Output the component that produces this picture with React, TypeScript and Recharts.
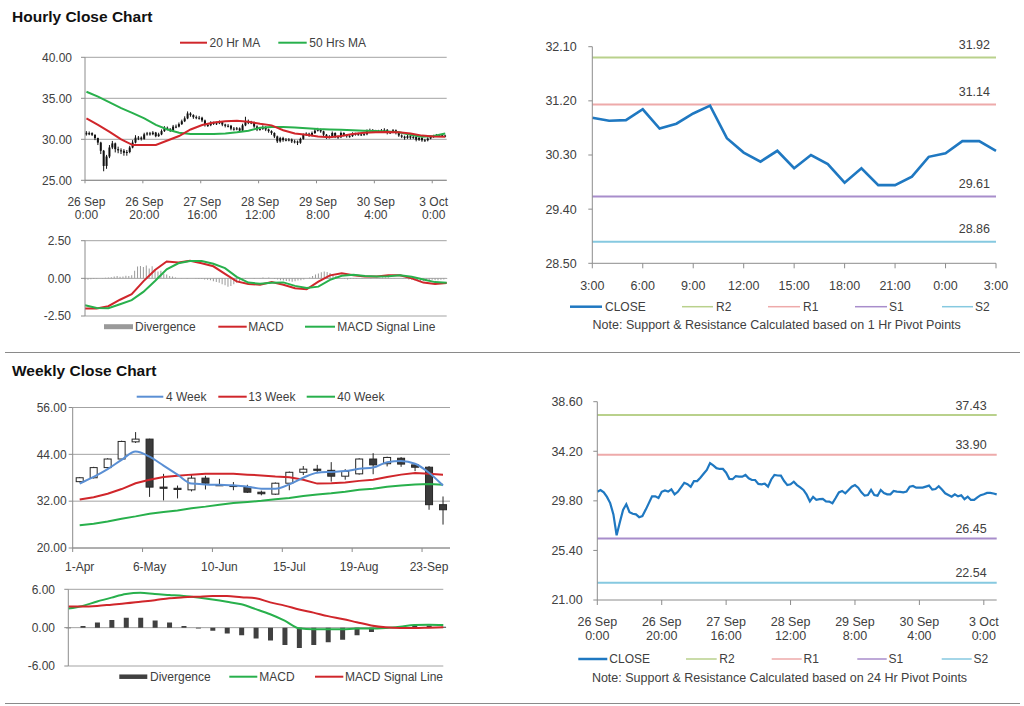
import React from 'react';
import { ComposedChart, LineChart, Line, Bar, XAxis, YAxis, CartesianGrid, ReferenceLine } from 'recharts';

const FONT = '"Liberation Sans", Arial, Helvetica, sans-serif';
const TXT = '#404040';
const AXIS = '#8c8c8c';
const GRID = '#a3a3a3';
const RED = '#d0262b';
const GREEN = '#28b04c';
const BLUE = '#1f78c1';
const BLUE4 = '#5a8fd4';
const R2C = '#b9d18c';
const R1C = '#eeaaaa';
const S1C = '#a88dcb';
const S2C = '#86c9e0';

// ---------------- Hourly data (26 Sep 0:00 .. 3 Oct 4:00) ----------------
const hourTickIdx = [0, 20, 40, 60, 80, 100, 120];
const hourTickDates = ['26 Sep', '26 Sep', '27 Sep', '28 Sep', '29 Sep', '30 Sep', '3 Oct'];
const hourTickTimes = ['0:00', '20:00', '16:00', '12:00', '8:00', '4:00', '0:00'];

const hourlyFirstOpen = 30.8;
const hourlyClose = [
  30.6, 30.75, 30.55, 30.15, 29.6, 28.6, 26.75, 27.9, 29.0, 29.5,
  28.8, 28.65, 28.6, 28.35, 28.45, 29.0, 29.6, 30.2, 30.2, 30.05,
  30.6, 30.72, 30.62, 30.82, 30.38, 30.6, 31.0, 31.4, 31.28, 31.05,
  31.55, 31.55, 31.85, 32.2, 32.55, 33.15, 32.95, 32.7, 32.63, 32.63,
  32.3, 31.75, 31.72, 32.0, 31.95, 31.95, 32.1, 31.8, 31.65, 31.65,
  31.3, 31.27, 31.33, 31.06, 31.7, 32.1, 32.05, 32.04, 31.56, 31.2,
  31.27, 31.5, 31.2, 31.0, 30.77, 30.35, 29.75, 30.15, 29.9, 29.95,
  29.97, 29.75, 29.73, 29.58, 30.05, 30.55, 30.68, 30.47, 30.77, 31.05,
  31.2, 30.97, 30.56, 30.26, 30.32, 30.77, 30.32, 30.26, 30.77, 30.5,
  30.38, 30.38, 30.68, 30.62, 30.6, 30.56, 30.62, 31.06, 31.12, 30.97,
  30.97, 30.97, 31.06, 31.15, 30.8, 30.85, 31.1, 30.8, 30.47, 30.32,
  30.17, 30.38, 30.2, 30.3, 29.95, 30.17, 29.88, 29.88, 30.1, 30.3,
  30.38, 30.5, 30.5, 30.45, 30.38,
];
const hourlyHigh = [
  31.0, 30.95, 30.85, 30.6, 30.2, 29.7, 28.7, 28.1, 29.3, 29.8,
  29.6, 29.1, 28.9, 28.8, 28.7, 29.2, 29.9, 30.5, 30.4, 30.35,
  30.8, 30.9, 30.9, 31.0, 30.9, 30.8, 31.2, 31.6, 31.55, 31.35,
  31.75, 31.8, 32.05, 32.4, 32.8, 33.4, 33.3, 33.05, 32.9, 32.85,
  32.75, 32.4, 31.95, 32.2, 32.15, 32.15, 32.3, 32.2, 31.9, 31.85,
  31.75, 31.5, 31.5, 31.45, 31.9, 32.75, 32.4, 32.25, 32.15, 31.7,
  31.45, 31.7, 31.6, 31.3, 31.1, 30.85, 30.45, 30.3, 30.3, 30.15,
  30.15, 30.1, 29.95, 29.85, 30.2, 30.7, 30.85, 30.8, 30.95, 31.25,
  31.4, 31.3, 31.05, 30.65, 30.5, 30.95, 30.85, 30.45, 30.95, 30.85,
  30.6, 30.55, 30.85, 30.8, 30.8, 30.75, 30.8, 31.2, 31.3, 31.25,
  31.15, 31.15, 31.25, 31.35, 31.25, 31.0, 31.25, 31.2, 30.9, 30.6,
  30.45, 30.55, 30.5, 30.45, 30.4, 30.35, 30.25, 30.05, 30.25, 30.45,
  30.55, 30.65, 30.65, 30.6, 30.55,
];
const hourlyLow = [
  30.45, 30.5, 30.4, 29.9, 29.3, 28.2, 26.1, 26.4, 27.7, 28.8,
  28.4, 28.3, 28.2, 28.0, 28.0, 28.3, 28.9, 29.5, 29.9, 29.85,
  29.95, 30.45, 30.45, 30.5, 30.25, 30.3, 30.5, 30.9, 31.1, 30.9,
  31.0, 31.35, 31.45, 31.75, 32.1, 32.45, 32.75, 32.5, 32.45, 32.4,
  32.1, 31.55, 31.5, 31.6, 31.75, 31.75, 31.85, 31.6, 31.45, 31.45,
  31.1, 31.05, 31.1, 30.85, 30.95, 31.6, 31.85, 31.85, 31.4, 31.0,
  31.05, 31.15, 31.0, 30.8, 30.55, 30.15, 29.55, 29.6, 29.7, 29.75,
  29.75, 29.55, 29.5, 29.3, 29.45, 29.95, 30.4, 30.3, 30.35, 30.65,
  30.95, 30.8, 30.4, 30.05, 30.1, 30.2, 30.15, 30.05, 30.15, 30.35,
  30.2, 30.2, 30.3, 30.45, 30.45, 30.4, 30.45, 30.5, 30.95, 30.8,
  30.8, 30.8, 30.85, 30.95, 30.6, 30.65, 30.75, 30.6, 30.3, 30.15,
  29.95, 30.05, 30.0, 30.05, 29.75, 29.8, 29.7, 29.7, 29.75, 30.0,
  30.2, 30.3, 30.35, 30.3, 30.25,
];
// moving averages & MACD read every 4 hours (idx 0,4,...,124)
const hourlyMa20 = [
  32.55, 31.75, 30.9, 30.0, 29.3, 29.3, 29.3, 29.85, 30.4, 31.2, 31.75, 32.05, 32.2, 32.25, 32.15, 31.9,
  31.7, 31.1, 30.7, 30.55, 30.35, 30.25, 30.4, 30.65, 30.8, 30.85, 30.9, 30.85, 30.7, 30.45, 30.35, 30.3,
];
const hourlyMa50 = [
  35.8, 35.2, 34.5, 33.8, 33.2, 32.55, 31.75, 31.2, 30.8, 30.65, 30.65, 30.65, 30.7, 30.85, 31.05, 31.4,
  31.5, 31.5, 31.45, 31.35, 31.25, 31.2, 31.15, 31.1, 31.05, 31.0, 30.95, 30.85, 30.55, 30.3, 30.4, 30.7,
];
const hourlyMacd = [
  -2.01, -2.0, -1.85, -1.42, -1.05, -0.2, 0.55, 1.12, 1.06, 1.17, 1.0, 0.8, 0.3, -0.2, -0.38, -0.42,
  -0.25, -0.42, -0.66, -0.73, -0.22, 0.2, 0.33, 0.2, 0.13, 0.12, 0.21, 0.2, 0.0, -0.28, -0.38, -0.31,
];
const hourlySignal = [
  -1.79, -1.97, -1.98, -1.72, -1.45, -0.9, -0.18, 0.6, 1.0, 1.15, 1.15, 0.97, 0.68, 0.1, -0.28, -0.36,
  -0.3, -0.27, -0.5, -0.64, -0.55, -0.1, 0.17, 0.24, 0.16, 0.13, 0.14, 0.2, 0.11, -0.07, -0.25, -0.29,
];
const hourlyDivergence = [
  -0.08, -0.1, -0.06, -0.05, -0.03,
  0.0, 0.02, 0.04, 0.05, 0.08, 0.12, 0.15, 0.1, 0.12, 0.18, 0.15, 0.2,
  0.5, 0.78, 0.82, 0.75, 0.85, 0.65, 0.8, 0.6, 0.45, 0.5, 0.3, 0.25,
  0.15, 0.12, 0.05, 0.0, 0.02, 0.0, -0.02, 0.0, 0.0, -0.03, -0.05, -0.05,
  -0.08, -0.1, -0.12, -0.2, -0.25, -0.3, -0.4, -0.45, -0.55, -0.5, -0.4, -0.3,
  -0.2, -0.1, -0.05, 0.0, 0.0, -0.02, 0.0, 0.02, 0.05, 0.03, 0.05, 0.0,
  -0.05, -0.08, -0.12, -0.15, -0.18, -0.2, -0.22, -0.2, -0.15, -0.12, -0.08, 0.0,
  0.05, 0.15, 0.25, 0.32, 0.4, 0.45, 0.42, 0.35, 0.25, 0.15, 0.08, 0.02,
  -0.05, -0.08, -0.05, -0.03, -0.02, 0.0, 0.02, 0.0, 0.0, -0.02, 0.0, 0.02,
  0.03, 0.05, 0.05, 0.05, 0.03, 0.02, 0.0, 0.0, -0.02, -0.05, -0.08, -0.1,
  -0.12, -0.15, -0.18, -0.18, -0.15, -0.12, -0.1, -0.12, -0.12, -0.1, -0.08, -0.05,
];

// ---------------- 1 Hr pivot chart ----------------
const pivotHours = [
  '3:00', '4:00', '5:00', '6:00', '7:00', '8:00', '9:00', '10:00', '11:00', '12:00', '13:00', '14:00', '15:00',
  '16:00', '17:00', '18:00', '19:00', '20:00', '21:00', '22:00', '23:00', '0:00', '1:00', '2:00', '3:00',
];
const pivotHourTicks = [0, 3, 6, 9, 12, 15, 18, 21, 24];
const close1h = [
  30.92, 30.87, 30.88, 31.06, 30.74, 30.82, 30.99, 31.12, 30.58, 30.34, 30.19, 30.37, 30.08,
  30.3, 30.15, 29.84, 30.08, 29.8, 29.8, 29.94, 30.27, 30.33, 30.53, 30.53, 30.37,
];
const pivot1h = { R2: 31.92, R1: 31.14, S1: 29.61, S2: 28.86 };
const pivot24h = { R2: 37.43, R1: 33.9, S1: 26.45, S2: 22.54 };

// ---------------- Weekly data (1-Apr .. 30-Sep) ----------------
const weeks = [
  '1-Apr', '8-Apr', '15-Apr', '22-Apr', '29-Apr', '6-May', '13-May', '20-May', '27-May', '3-Jun',
  '10-Jun', '17-Jun', '24-Jun', '1-Jul', '8-Jul', '15-Jul', '22-Jul', '29-Jul', '5-Aug', '12-Aug',
  '19-Aug', '26-Aug', '2-Sep', '9-Sep', '16-Sep', '23-Sep', '30-Sep',
];
const weekTickIdx = [0, 5, 10, 15, 20, 25];
const weekOpen = [37.0, 38.0, 40.6, 42.8, 47.2, 47.9, 35.6, 35.3, 34.9, 37.9, 36.2, 36.0, 35.6, 34.3, 33.8, 36.6, 39.4, 40.2, 39.9, 38.4, 39.0, 42.8, 41.6, 43.0, 41.3, 40.7, 31.1];
const weekHigh = [38.2, 40.8, 43.0, 47.5, 49.7, 48.0, 39.0, 36.0, 38.8, 38.5, 37.7, 36.9, 36.2, 34.7, 36.8, 39.6, 41.0, 41.3, 42.0, 40.2, 43.0, 44.3, 43.4, 43.3, 41.6, 41.0, 33.2];
const weekLow = [36.8, 37.8, 40.4, 42.6, 46.9, 33.1, 32.2, 32.7, 34.5, 35.0, 35.9, 34.8, 34.1, 33.5, 33.6, 34.8, 38.7, 39.2, 37.0, 37.5, 38.8, 38.9, 40.9, 40.8, 39.7, 29.8, 26.0];
const weekClose = [38.0, 40.6, 42.8, 47.3, 47.9, 35.6, 35.3, 35.0, 37.9, 36.6, 36.0, 35.8, 34.3, 33.9, 36.6, 39.4, 40.2, 39.9, 38.4, 39.6, 42.8, 41.3, 43.2, 41.5, 40.7, 31.1, 29.8];
const week4 = [36.5, 38.2, 40.2, 42.6, 44.7, 43.4, 41.1, 38.8, 36.5, 36.3, 36.2, 36.1, 35.7, 35.2, 35.2, 36.3, 38.0, 39.3, 39.5, 39.7, 40.3, 40.6, 42.0, 42.3, 41.6, 39.3, 36.0];
const week13 = [32.4, 33.0, 33.9, 35.1, 36.6, 37.5, 38.2, 38.5, 38.8, 39.0, 39.0, 39.0, 38.8, 38.6, 38.3, 38.1, 37.5, 36.5, 36.6, 36.8, 37.2, 37.5, 38.2, 38.8, 39.2, 39.0, 38.8];
const week40 = [25.8, 26.2, 26.8, 27.5, 28.1, 28.8, 29.2, 29.6, 30.2, 30.6, 31.1, 31.5, 31.8, 32.1, 32.5, 32.8, 33.3, 33.7, 34.0, 34.4, 34.9, 35.2, 35.7, 36.0, 36.3, 36.4, 36.2];
const weekMacd = [3.0, 3.4, 4.1, 4.7, 5.25, 5.45, 5.25, 5.1, 4.95, 4.7, 4.4, 4.05, 3.65, 2.9, 2.1, 1.1, -0.1, -0.25, -0.25, -0.25, -0.15, -0.15, -0.05, 0.15, 0.4, 0.45, 0.4];
const weekSignal = [3.3, 3.3, 3.4, 3.6, 3.8, 4.05, 4.3, 4.6, 4.75, 4.85, 4.95, 4.95, 4.75, 4.6, 3.95, 3.45, 2.85, 2.35, 1.8, 1.35, 0.85, 0.35, 0.05, -0.05, -0.05, 0.0, 0.05];
const weekDivergence = [-0.1, 0.25, 0.8, 1.2, 1.55, 1.55, 1.1, 0.8, 0.25, -0.15, -0.5, -0.9, -1.2, -1.7, -2.0, -2.7, -3.2, -2.7, -2.3, -1.9, -1.2, -0.7, -0.1, 0.0, 0.25, 0.35, 0.15];

// ---------------- tables ----------------
const hourlyRows = hourlyClose.map((c, i) => ({
  i,
  open: i === 0 ? hourlyFirstOpen : hourlyClose[i - 1],
  high: hourlyHigh[i],
  low: hourlyLow[i],
  close: c,
  range: [hourlyLow[i], hourlyHigh[i]],
  ma20: i % 4 === 0 ? hourlyMa20[i / 4] : null,
  ma50: i % 4 === 0 ? hourlyMa50[i / 4] : null,
  macd: i % 4 === 0 ? hourlyMacd[i / 4] : null,
  signal: i % 4 === 0 ? hourlySignal[i / 4] : null,
  div: hourlyDivergence[i],
}));
const pivotRows = close1h.map((c, i) => ({ i, close: c }));
const weeklyRows = weekClose.map((c, i) => ({
  i,
  open: weekOpen[i],
  high: weekHigh[i],
  low: weekLow[i],
  close: c,
  range: [weekLow[i], weekHigh[i]],
  ma4: week4[i],
  ma13: week13[i],
  ma40: week40[i],
  macd: weekMacd[i],
  signal: weekSignal[i],
  div: weekDivergence[i],
}));

const fmt2 = (v: number) => Number(v).toFixed(2);

function CandleShape(props: any) {
  const { x, y, width, height, payload, bodyW, upFill, downFill, stroke, wick } = props;
  if (!payload || !isFinite(y) || !isFinite(height)) return null;
  const top = Math.min(y, y + height);
  const h = Math.abs(height);
  const { open, close, high, low } = payload;
  const k = high > low ? h / (high - low) : 0;
  const cx = x + width / 2;
  const yo = top + (high - open) * k;
  const yc = top + (high - close) * k;
  const bTop = Math.min(yo, yc);
  const bH = Math.max(Math.abs(yo - yc), 1);
  const up = close >= open;
  return (
    <g>
      <line x1={cx} x2={cx} y1={top} y2={top + h} stroke={wick} strokeWidth={1} />
      <rect x={cx - bodyW / 2} y={bTop} width={bodyW} height={bH} fill={up ? upFill : downFill} stroke={stroke} strokeWidth={stroke === 'none' ? 0 : 1} />
    </g>
  );
}

function TwoLineHourTick(props: any) {
  const { x, y, payload, mark, shift, d1, d2, fs } = props;
  const k = hourTickIdx.indexOf(payload.value);
  return (
    <g>
      <line x1={x - shift} x2={x - shift} y1={y} y2={y + mark} stroke={AXIS} />
      <text x={x} y={y + d1} textAnchor="middle" fontSize={fs} fill={TXT} fontFamily={FONT}>{hourTickDates[k]}</text>
      <text x={x} y={y + d2} textAnchor="middle" fontSize={fs} fill={TXT} fontFamily={FONT}>{hourTickTimes[k]}</text>
    </g>
  );
}

function PivotHourTick(props: any) {
  const { x, y, payload } = props;
  return (
    <g>
      <line x1={x} x2={x} y1={y} y2={y + 5} stroke={AXIS} />
      <text x={x} y={y + 27} textAnchor="middle" fontSize={12.5} fill={TXT} fontFamily={FONT}>{pivotHours[payload.value]}</text>
    </g>
  );
}

function WeekTick(props: any) {
  const { x, y, payload } = props;
  return (
    <g>
      <line x1={x - 7} x2={x - 7} y1={y} y2={y + 4} stroke={AXIS} />
      <text x={x} y={y + 23} textAnchor="middle" fontSize={12} fill={TXT} fontFamily={FONT}>{weeks[payload.value]}</text>
    </g>
  );
}

const pivotLabel = (value: number, up: number, inset: number) => (props: any) => {
  const vb = props.viewBox || {};
  if (vb.x == null) return null;
  return (
    <text x={vb.x + vb.width - inset} y={vb.y - up} textAnchor="end" fontSize={12.5} fill={TXT} fontFamily={FONT}>
      {value.toFixed(2)}
    </text>
  );
};

const yTick = (fs: number) => ({ fontSize: fs, fill: TXT, fontFamily: FONT });

type LegendItem = { x1: number; x2: number; tx: number; color: string; label: string; w?: number };
const legends: { y: number; items: LegendItem[] }[] = [
  { y: 42.7, items: [
    { x1: 180, x2: 207, tx: 209.5, color: RED, label: '20 Hr MA' },
    { x1: 278.3, x2: 306.7, tx: 309.3, color: GREEN, label: '50 Hrs MA' },
  ] },
  { y: 326.7, items: [
    { x1: 104, x2: 133, tx: 135, color: '#9a9a9a', label: 'Divergence', w: 5 },
    { x1: 218.3, x2: 246.7, tx: 248.3, color: RED, label: 'MACD' },
    { x1: 305, x2: 335, tx: 337.3, color: GREEN, label: 'MACD Signal Line' },
  ] },
  { y: 306.7, items: [
    { x1: 570, x2: 602, tx: 605, color: BLUE, label: 'CLOSE', w: 2.5 },
    { x1: 682, x2: 713, tx: 716, color: R2C, label: 'R2', w: 1.5 },
    { x1: 768, x2: 800, tx: 803, color: R1C, label: 'R1', w: 1.5 },
    { x1: 855, x2: 887, tx: 889, color: S1C, label: 'S1', w: 1.5 },
    { x1: 942, x2: 973, tx: 975, color: S2C, label: 'S2', w: 1.5 },
  ] },
  { y: 659, items: [
    { x1: 578.3, x2: 607.3, tx: 609.3, color: BLUE, label: 'CLOSE', w: 2.5 },
    { x1: 686, x2: 716.7, tx: 719.3, color: R2C, label: 'R2', w: 1.5 },
    { x1: 771.7, x2: 801.7, tx: 803.5, color: R1C, label: 'R1', w: 1.5 },
    { x1: 857.3, x2: 886.7, tx: 888.5, color: S1C, label: 'S1', w: 1.5 },
    { x1: 941.7, x2: 971.7, tx: 973.5, color: S2C, label: 'S2', w: 1.5 },
  ] },
  { y: 396.7, items: [
    { x1: 136.7, x2: 163.3, tx: 166, color: BLUE4, label: '4 Week' },
    { x1: 218.3, x2: 246.7, tx: 248.3, color: RED, label: '13 Week' },
    { x1: 306.7, x2: 335, tx: 337.3, color: GREEN, label: '40 Week' },
  ] },
  { y: 676.7, items: [
    { x1: 119.3, x2: 147.3, tx: 150, color: '#404040', label: 'Divergence', w: 4.5 },
    { x1: 229.3, x2: 257.3, tx: 259.3, color: GREEN, label: 'MACD' },
    { x1: 315, x2: 343.3, tx: 345, color: RED, label: 'MACD Signal Line' },
  ] },
];

const pivotLines = (p: { R2: number; R1: number; S1: number; S2: number }, up: number, inset: number) => [
  <ReferenceLine key="r2" y={p.R2} stroke={R2C} strokeWidth={2} label={pivotLabel(p.R2, up, inset)} />,
  <ReferenceLine key="r1" y={p.R1} stroke={R1C} strokeWidth={2} label={pivotLabel(p.R1, up, inset)} />,
  <ReferenceLine key="s1" y={p.S1} stroke={S1C} strokeWidth={2} label={pivotLabel(p.S1, up, inset)} />,
  <ReferenceLine key="s2" y={p.S2} stroke={S2C} strokeWidth={2} label={pivotLabel(p.S2, up, inset)} />,
];

export default function App() {
  return (
    <div style={{ position: 'absolute', left: 0, top: 0, width: 1024, height: 706, background: '#fff', fontFamily: FONT }}>
      <svg width={1024} height={706} style={{ position: 'absolute', left: 0, top: 0 }}>
        <text x={12} y={22} fontSize={15.5} fontWeight="bold" fill="#111" fontFamily={FONT}>Hourly Close Chart</text>
        <text x={12} y={376} fontSize={15.5} fontWeight="bold" fill="#111" fontFamily={FONT}>Weekly Close Chart</text>
        <line x1={5} x2={1020} y1={352.5} y2={352.5} stroke="#8a8a8a" strokeWidth={1} />
        <line x1={5} x2={1020} y1={703.5} y2={703.5} stroke="#8a8a8a" strokeWidth={1} />
        {legends.map((lg, li) => (
          <g key={li}>
            {lg.items.map((it, ii) => (
              <g key={ii}>
                <line x1={it.x1} x2={it.x2} y1={lg.y} y2={lg.y} stroke={it.color} strokeWidth={it.w || 2} />
                <text x={it.tx} y={lg.y + 4.3} fontSize={12} fill={TXT} fontFamily={FONT}>{it.label}</text>
              </g>
            ))}
          </g>
        ))}
        <text x={776.7} y={329.3} textAnchor="middle" fontSize={12.5} fill={TXT} fontFamily={FONT}>
          Note: Support &amp; Resistance Calculated based on 1 Hr Pivot Points
        </text>
        <text x={779.5} y={682.3} textAnchor="middle" fontSize={12.5} fill={TXT} fontFamily={FONT}>
          Note: Support &amp; Resistance Calculated based on 24 Hr Pivot Points
        </text>
      </svg>

      {/* Hourly candlestick */}
      <div style={{ position: 'absolute', left: 0, top: 50 }}>
        <ComposedChart width={460} height={180} data={hourlyRows} margin={{ top: 7.3, right: 13.3, bottom: 0, left: 0 }}>
          <CartesianGrid vertical={false} stroke={GRID} />
          <XAxis dataKey="i" type="number" domain={[-0.5, 124.5]} ticks={hourTickIdx} interval={0} height={49.7}
            tickSize={0} tickMargin={0} axisLine={{ stroke: AXIS }} tickLine={false}
            tick={(p: any) => <TwoLineHourTick {...p} mark={3} shift={1.45} d1={25.7} d2={39} fs={12} />} />
          <YAxis type="number" domain={[25, 40]} ticks={[25, 30, 35, 40]} interval={0} width={85} tickSize={4} tickMargin={9}
            axisLine={{ stroke: AXIS }} tickLine={{ stroke: AXIS }} tick={yTick(12)} tickFormatter={fmt2} allowDataOverflow />
          <Bar dataKey="range" barSize={3} isAnimationActive={false}
            shape={(p: any) => <CandleShape {...p} bodyW={2} upFill="#111" downFill="#111" stroke="none" wick="#111" />} />
          <Line dataKey="ma50" stroke={GREEN} strokeWidth={2} dot={false} connectNulls isAnimationActive={false} />
          <Line dataKey="ma20" stroke={RED} strokeWidth={2} dot={false} connectNulls isAnimationActive={false} />
        </ComposedChart>
      </div>

      {/* Hourly MACD */}
      <div style={{ position: 'absolute', left: 0, top: 230 }}>
        <ComposedChart width={460} height={100} data={hourlyRows} margin={{ top: 10.7, right: 13.3, bottom: 14, left: 0 }}>
          <CartesianGrid vertical={false} stroke={GRID} />
          <XAxis dataKey="i" type="number" domain={[0, 124]} hide />
          <YAxis type="number" domain={[-2.5, 2.5]} ticks={[-2.5, 0, 2.5]} interval={0} width={85} tickSize={4} tickMargin={10}
            axisLine={{ stroke: AXIS }} tickLine={{ stroke: AXIS }} tick={yTick(12)} tickFormatter={fmt2} allowDataOverflow />
          <Bar dataKey="div" barSize={1} fill="#9a9a9a" isAnimationActive={false} />
          <Line dataKey="macd" stroke={RED} strokeWidth={2} dot={false} connectNulls isAnimationActive={false} />
          <Line dataKey="signal" stroke={GREEN} strokeWidth={2} dot={false} connectNulls isAnimationActive={false} />
        </ComposedChart>
      </div>

      {/* 1 Hr pivot */}
      <div style={{ position: 'absolute', left: 500, top: 36 }}>
        <LineChart width={520} height={260} data={pivotRows} margin={{ top: 10.7, right: 24, bottom: 0, left: 0 }}>
          <XAxis dataKey="i" type="number" domain={[0, 24]} ticks={pivotHourTicks} interval={0} height={32.7}
            tickSize={0} tickMargin={0} axisLine={{ stroke: AXIS }} tickLine={false} tick={(p: any) => <PivotHourTick {...p} />} />
          <YAxis type="number" domain={[28.5, 32.1]} ticks={[28.5, 29.4, 30.3, 31.2, 32.1]} interval={0} width={92.3} tickSize={4} tickMargin={11.6}
            axisLine={{ stroke: AXIS }} tickLine={{ stroke: AXIS }} tick={yTick(12.5)} tickFormatter={fmt2} allowDataOverflow />
          {pivotLines(pivot1h, 8.2, 6)}
          <Line dataKey="close" stroke={BLUE} strokeWidth={2.6} dot={false} isAnimationActive={false} />
        </LineChart>
      </div>

      {/* Weekly candlestick */}
      <div style={{ position: 'absolute', left: 0, top: 400 }}>
        <ComposedChart width={460} height={180} data={weeklyRows} margin={{ top: 7.5, right: 10, bottom: 0, left: 0 }}>
          <CartesianGrid vertical={false} stroke={GRID} />
          <XAxis dataKey="i" type="number" domain={[-0.5, 26.5]} ticks={weekTickIdx} interval={0} height={32}
            tickSize={0} tickMargin={0} axisLine={{ stroke: AXIS }} tickLine={false} tick={(p: any) => <WeekTick {...p} />} />
          <YAxis type="number" domain={[20, 56]} ticks={[20, 32, 44, 56]} interval={0} width={72.7} tickSize={4} tickMargin={2}
            axisLine={{ stroke: AXIS }} tickLine={{ stroke: AXIS }} tick={yTick(12)} tickFormatter={fmt2} allowDataOverflow />
          <Bar dataKey="range" barSize={8} isAnimationActive={false}
            shape={(p: any) => <CandleShape {...p} bodyW={7} upFill="#ffffff" downFill="#3b3b3b" stroke="#262626" wick="#262626" />} />
          <Line dataKey="ma40" stroke={GREEN} strokeWidth={2} dot={false} isAnimationActive={false} />
          <Line dataKey="ma13" stroke={RED} strokeWidth={2} dot={false} isAnimationActive={false} />
          <Line dataKey="ma4" stroke={BLUE4} strokeWidth={2} dot={false} type="monotone" isAnimationActive={false} />
        </ComposedChart>
      </div>

      {/* Weekly MACD */}
      <div style={{ position: 'absolute', left: 0, top: 580 }}>
        <ComposedChart width={460} height={100} data={weeklyRows} margin={{ top: 9.3, right: 16.7, bottom: 14, left: 0 }}>
          <CartesianGrid vertical={false} stroke={GRID} />
          <XAxis dataKey="i" type="number" domain={[0, 26]} hide />
          <YAxis type="number" domain={[-6, 6]} ticks={[-6, 0, 6]} interval={0} width={68.3} tickSize={4} tickMargin={9.3}
            axisLine={{ stroke: AXIS }} tickLine={{ stroke: AXIS }} tick={yTick(12)} tickFormatter={fmt2} allowDataOverflow />
          <Bar dataKey="div" barSize={5} fill="#404040" isAnimationActive={false} />
          <Line dataKey="macd" stroke={GREEN} strokeWidth={2} dot={false} type="monotone" isAnimationActive={false} />
          <Line dataKey="signal" stroke={RED} strokeWidth={2} dot={false} type="monotone" isAnimationActive={false} />
        </ComposedChart>
      </div>

      {/* 24 Hr pivot */}
      <div style={{ position: 'absolute', left: 500, top: 390 }}>
        <LineChart width={520} height={260} data={hourlyRows} margin={{ top: 11.7, right: 23.3, bottom: 0, left: 0 }}>
          <XAxis dataKey="i" type="number" domain={[0, 124]} ticks={hourTickIdx} interval={0} height={50}
            tickSize={0} tickMargin={0} axisLine={{ stroke: AXIS }} tickLine={false}
            tick={(p: any) => <TwoLineHourTick {...p} mark={5} shift={0} d1={26} d2={40.3} fs={12.5} />} />
          <YAxis type="number" domain={[21, 38.6]} ticks={[21, 25.4, 29.8, 34.2, 38.6]} interval={0} width={97.3} tickSize={4} tickMargin={10.6}
            axisLine={{ stroke: AXIS }} tickLine={{ stroke: AXIS }} tick={yTick(12.5)} tickFormatter={fmt2} allowDataOverflow />
          {pivotLines(pivot24h, 5.2, 10)}
          <Line dataKey="close" stroke={BLUE} strokeWidth={2.2} dot={false} isAnimationActive={false} />
        </LineChart>
      </div>
    </div>
  );
}
